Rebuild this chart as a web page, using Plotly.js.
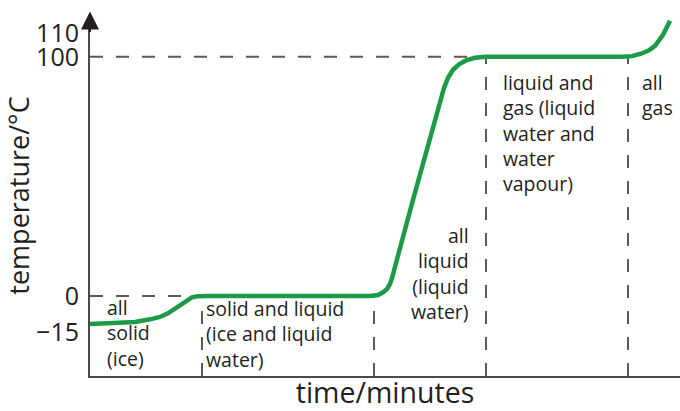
<!DOCTYPE html>
<html>
<head>
<meta charset="utf-8">
<script src="https://cdn.plot.ly/plotly-3.0.1.min.js"></script>
<style>html,body{margin:0;padding:0;background:#fff;}#chart{width:680px;height:411px;}</style>
</head>
<body>
<div id="chart"></div>
<script>
// Heating curve of water (time in arbitrary minutes, temperature in °C)
const timeMin = [0, 2, 4.5, 6, 7, 7.8, 8.4, 9.0, 9.6, 10.2, 10.8, 11.6, 28, 28.8, 29.3, 29.7, 30.0, 30.2, 32.3, 34.5, 35.0, 35.4, 35.8, 36.3, 36.9, 37.6, 38.5, 39.6, 53.2, 54.2, 55.1, 55.9, 56.5, 56.9, 57.3, 57.6, 58.0];
const tempC   = [-11.7, -11.5, -10.9, -9.8, -8.8, -7.3, -5.6, -3.8, -1.9, -0.6, -0.1, 0, 0, 0.4, 1.5, 2.9, 5.0, 7.5, 40.2, 73.6, 81.6, 87.0, 91.2, 94.6, 96.9, 98.5, 99.6, 100, 100, 100.3, 101.3, 102.7, 104.6, 106.7, 109.2, 111.7, 115.1];

const boundaryTimes = [11.2, 28.4, 39.6, 53.8];   // dashed phase boundaries
const meltingPoint = 0;
const boilingPoint = 100;
const tickVals = [-15, 0, 100, 110];
const tickText = ['\u221215', '0', '100', '110'];

const phaseLabels = [
  'all<br>solid<br>(ice)',
  'solid and liquid<br>(ice and liquid<br>water)',
  'all<br>liquid<br>(liquid<br>water)',
  'liquid and<br>gas (liquid<br>water and<br>water<br>vapour)',
  'all<br>gas'
];
const labelX = [1.5, 11.4, 38.1, 41.1, 55.0];
const labelY = [-15.5, -15.9, 9.2, 68.2, 83.9];
const labelAnchor = ['left', 'left', 'right', 'left', 'left'];

const xRange = [0, 59];
const yRange = [-33.5, 117.5];

const dashColor = '#5a5a5a';
const textColor = '#231f20';
const font = 'Open Sans, sans-serif';

const shapes = [];
// horizontal reference lines
shapes.push({type:'line', xref:'x', yref:'y', x0:xRange[0], x1:boundaryTimes[3], y0:boilingPoint, y1:boilingPoint,
  line:{color:dashColor, width:2, dash:'13px,13px'}, layer:'below'});
shapes.push({type:'line', xref:'x', yref:'y', x0:xRange[0], x1:boundaryTimes[1], y0:meltingPoint, y1:meltingPoint,
  line:{color:dashColor, width:2, dash:'13px,13px'}, layer:'below'});
// vertical boundaries
boundaryTimes.forEach((t, i) => {
  const top = i < 2 ? meltingPoint : boilingPoint;
  shapes.push({type:'line', xref:'x', yref:'y', x0:t, x1:t, y0:yRange[0], y1:top,
    line:{color:dashColor, width:2, dash:'13px,13px'}, layer:'below'});
});

const annotations = phaseLabels.map((txt, i) => ({
  xref:'x', yref:'y', x:labelX[i], y:labelY[i], text:txt, showarrow:false,
  xanchor:labelAnchor[i], yanchor:'middle', align:labelAnchor[i],
  font:{family:font, size:19.5, color:textColor}
}));
// arrowhead on top of the y axis
annotations.push({xref:'paper', yref:'paper', x:0, y:1.01, ax:0, ay:22, showarrow:true,
  arrowhead:2, arrowsize:1.8, arrowwidth:2, arrowcolor:'#231f20', text:''});

const trace = {
  x: timeMin, y: tempC, type:'scatter', mode:'lines',
  line:{color:'#1c9a45', width:4.5}, hoverinfo:'skip', cliponaxis:false
};

const layout = {
  width:680, height:411,
  margin:{l:90, r:0, t:15, b:35},
  paper_bgcolor:'#fff', plot_bgcolor:'#fff',
  showlegend:false,
  xaxis:{range:xRange, showgrid:false, zeroline:false, showticklabels:false, ticks:'',
    showline:true, linecolor:'#4a4a4a', linewidth:2, fixedrange:true,
    title:{text:'time/minutes', font:{family:font, size:28.5, color:textColor}, standoff:12}},
  yaxis:{range:yRange, showgrid:false, zeroline:false, ticks:'', tickvals:tickVals, ticktext:tickText,
    tickfont:{family:font, size:25, color:textColor}, ticklabelstandoff:4,
    showline:true, linecolor:'#4a4a4a', linewidth:2, fixedrange:true,
    title:{text:'temperature/\u00b0C', font:{family:font, size:27, color:textColor}, standoff:0}},
  shapes:shapes,
  annotations:annotations
};

Plotly.newPlot('chart', [trace], layout, {displayModeBar:false, staticPlot:true});
</script>
</body>
</html>
